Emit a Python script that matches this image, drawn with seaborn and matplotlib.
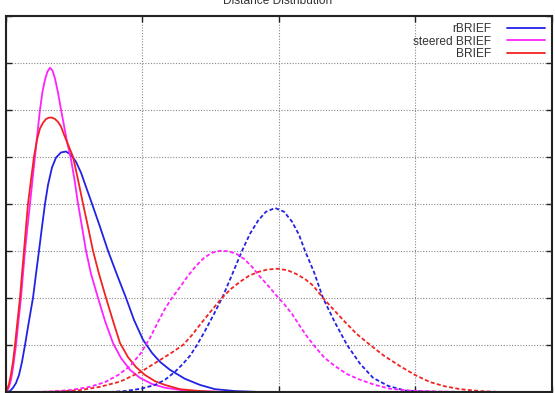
import numpy as np
import pandas as pd
import matplotlib
matplotlib.use("Agg")
import matplotlib.pyplot as plt
import seaborn as sns

# Distance values (x: hamming distance, y: density)
labels = ["rBRIEF", "steered BRIEF", "BRIEF"]
colors = ["#2222e6", "#ff22ff", "#f22222"]

# near-neighbour (solid) curves
rbrief_x = [0, 2.11, 3.51, 4.92, 6.32, 7.73, 9.14, 11.01, 12.88, 14.29,
            15.69, 17.10, 18.51, 19.91, 21.78, 23.66, 26.00, 28.34, 30.69, 33.03,
            35.37, 37.71, 40.52, 44.27, 48.02, 52.24, 56.45, 60.20, 64.42, 68.64,
            72.38, 77.07, 84.09, 91.12, 98.15, 107.5, 119.2]
rbrief_y = [0, 0.0002, 0.0009, 0.0019, 0.0036, 0.0064, 0.0100, 0.0151, 0.0200, 0.0251,
            0.0300, 0.0351, 0.0400, 0.0440, 0.0477, 0.0498, 0.0509, 0.0511, 0.0504, 0.0489,
            0.0466, 0.0436, 0.0400, 0.0351, 0.0300, 0.0249, 0.0200, 0.0153, 0.0111, 0.0083,
            0.0064, 0.0047, 0.0028, 0.0015, 0.0006, 0.0002, 0]

steered_x = [0, 0.70, 1.64, 2.58, 3.51, 4.92, 6.09, 7.26, 8.20, 9.14,
             10.31, 11.48, 12.65, 13.82, 14.99, 16.16, 17.33, 18.51, 19.68, 20.85,
             22.02, 23.19, 24.60, 26.00, 27.41, 28.81, 30.69, 32.33, 33.97, 35.84,
             37.71, 40.06, 43.34, 46.61, 50.36, 54.11, 58.33, 63.01, 68.64, 74.73,
             84.09, 95.8, 105.2]
steered_y = [0, 0.0002, 0.0011, 0.0026, 0.0051, 0.0100, 0.0151, 0.0200, 0.0251, 0.0300,
             0.0351, 0.0400, 0.0451, 0.0500, 0.0551, 0.0600, 0.0638, 0.0664, 0.0681, 0.0689,
             0.0683, 0.0666, 0.0636, 0.0600, 0.0566, 0.0532, 0.0494, 0.0451, 0.0400, 0.0351,
             0.0300, 0.0251, 0.0200, 0.0151, 0.0104, 0.0072, 0.0047, 0.0030, 0.0017, 0.0009,
             0.0003, 0.0001, 0]

brief_x = [0, 0.70, 1.64, 2.58, 3.51, 4.45, 5.62, 6.79, 7.73, 8.67,
           9.60, 10.54, 11.95, 13.35, 14.76, 16.16, 17.57, 18.97, 20.38, 21.78,
           23.19, 24.60, 26.00, 27.41, 29.28, 31.62, 33.97, 36.31, 38.65, 40.99,
           43.80, 47.08, 50.36, 53.64, 57.39, 61.14, 65.36, 70.04, 74.73, 81.76,
           91.12, 100.5]
brief_y = [0, 0.0004, 0.0017, 0.0038, 0.0064, 0.0100, 0.0151, 0.0200, 0.0251, 0.0300,
           0.0351, 0.0400, 0.0451, 0.0500, 0.0536, 0.0560, 0.0572, 0.0580, 0.0583, 0.0583,
           0.0580, 0.0574, 0.0564, 0.0547, 0.0526, 0.0500, 0.0451, 0.0400, 0.0351, 0.0300,
           0.0251, 0.0200, 0.0151, 0.0104, 0.0074, 0.0053, 0.0036, 0.0023, 0.0015, 0.0006,
           0.0002, 0]

# random pair (dashed) curves
rbrief_rnd_x = [48.96, 56.0, 63.48, 70.04, 74.73, 79.41, 83.16, 86.44, 89.72, 93.47,
                97.69, 101.9, 106.1, 110.8, 114.5, 118.3, 122.0, 126.3, 130.5, 134.2,
                137.5, 140.3, 144.5, 148.7, 154.4, 160.0, 166.1, 172.2, 179.2, 187.2,
                196.6, 205.9]
rbrief_rnd_y = [0, 0.0002, 0.0007, 0.0015, 0.0026, 0.0043, 0.0060, 0.0077, 0.0100, 0.0130,
                0.0166, 0.0204, 0.0249, 0.0300, 0.0336, 0.0364, 0.0383, 0.0391, 0.0383, 0.0362,
                0.0334, 0.0300, 0.0255, 0.0200, 0.0147, 0.0100, 0.0060, 0.0030, 0.0013, 0.0003,
                0.0001, 0]

steered_rnd_x = [11.48, 20.85, 30.22, 39.58, 46.61, 52.71, 58.33, 63.48, 67.70, 71.44,
                 74.73, 78.00, 81.76, 85.50, 89.25, 93.00, 96.74, 100.5, 104.2, 108.0,
                 111.7, 115.5, 119.2, 123.0, 126.7, 130.5, 134.2, 137.9, 141.7, 145.4,
                 149.6, 154.4, 160.0, 166.1, 173.1, 180.1, 189.5, 203.6, 217.6]
steered_rnd_y = [0, 0.0001, 0.0004, 0.0011, 0.0021, 0.0036, 0.0055, 0.0083, 0.0115, 0.0149,
                 0.0177, 0.0200, 0.0223, 0.0247, 0.0268, 0.0285, 0.0296, 0.0300, 0.0299, 0.0294,
                 0.0283, 0.0266, 0.0245, 0.0226, 0.0206, 0.0187, 0.0166, 0.0140, 0.0115, 0.0094,
                 0.0072, 0.0055, 0.0038, 0.0026, 0.0015, 0.0007, 0.0003, 0.0001, 0]

brief_rnd_x = [16.16, 25.53, 34.90, 44.27, 53.64, 63.48, 72.38, 77.99, 83.16, 87.37,
               91.12, 96.27, 101.4, 105.6, 109.8, 114.1, 118.3, 122.5, 127.2, 131.9,
               136.1, 140.3, 144.1, 148.7, 153.9, 159.0, 164.6, 170.8, 177.3, 184.8,
               191.9, 198.9, 205.9, 213.0, 222.3, 231.7]
brief_rnd_y = [0, 0.0001, 0.0004, 0.0011, 0.0022, 0.0043, 0.0068, 0.0084, 0.0100, 0.0121,
               0.0143, 0.0172, 0.0200, 0.0219, 0.0234, 0.0247, 0.0255, 0.0260, 0.0262, 0.0259,
               0.0251, 0.0240, 0.0226, 0.0200, 0.0174, 0.0149, 0.0123, 0.0100, 0.0077, 0.0055,
               0.0036, 0.0021, 0.0012, 0.0006, 0.0002, 0]

x_ticks = [0, 64, 128, 192, 256]
y_ticks = [0, 0.01, 0.02, 0.03, 0.04, 0.05, 0.06, 0.07, 0.08]

sns.set_theme(style="white")
plt.rcParams['font.family'] = ['Liberation Sans', 'DejaVu Sans']

fig = plt.figure(figsize=(5.55, 3.93), dpi=100)
ax = fig.add_axes([5.5 / 555, 1 / 393, 546.5 / 555, 376.5 / 393])

near = [(rbrief_x, rbrief_y), (steered_x, steered_y), (brief_x, brief_y)]
rnd = [(rbrief_rnd_x, rbrief_rnd_y), (steered_rnd_x, steered_rnd_y),
       (brief_rnd_x, brief_rnd_y)]

handles = []
for (xs, ys), name, col in zip(near, labels, colors):
    sns.lineplot(x=xs, y=ys, ax=ax, color=col, lw=1.3, estimator=None,
                 label=name)
    handles.append(ax.lines[-1])
for (xs, ys), col in zip(rnd, colors):
    sns.lineplot(x=xs, y=ys, ax=ax, color=col, lw=1.3, estimator=None,
                 linestyle=(0, (2.2, 1.3)), legend=False)

ax.set_xlim(0, 256)
ax.set_ylim(0, 0.08)
ax.set_xticks(x_ticks)
ax.set_yticks(y_ticks)
ax.set_xticklabels([])
ax.set_yticklabels([])
ax.tick_params(direction="in", length=4, width=1, colors="#222222",
               top=True, right=True, bottom=True, left=True)
ax.grid(True, color="#888888", linestyle=(0, (1, 1.5)), lw=0.8)
for sp in ax.spines.values():
    sp.set_color("#222222")
    sp.set_linewidth(1.5)
ax.set_xlabel("")
ax.set_ylabel("")

ax.legend(handles=handles, labels=labels, loc="upper right",
          bbox_to_anchor=(0.987, 0.98), frameon=False, markerfirst=False,
          fontsize=8.6, labelspacing=0.04, handlelength=3.2,
          handletextpad=1.3, borderpad=0, borderaxespad=0,
          labelcolor="#333333")

fig.text(0.5, 1 - 4 / 393, "Distance Distribution", ha="center",
         va="baseline", fontsize=8.6, color="#333333")

fig.savefig("out.png", dpi=100)
